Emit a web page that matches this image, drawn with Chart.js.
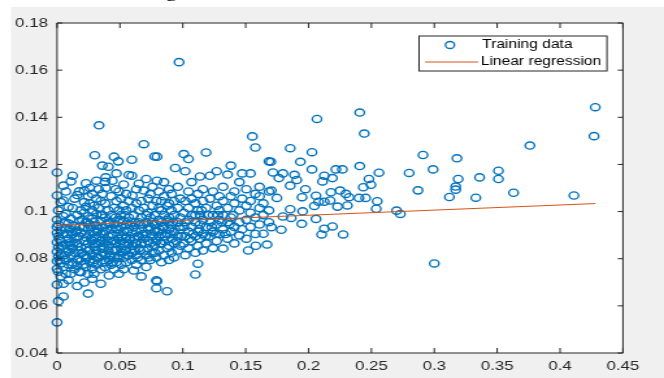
<!DOCTYPE html>
<html>
<head>
<meta charset="utf-8">
<script src="https://cdn.jsdelivr.net/npm/chart.js@4.4.1/dist/chart.umd.min.js"></script>
<style>
  html, body { margin: 0; padding: 0; background: #fff; overflow: hidden; }
  /* the reference figure is stretched sideways, so draw narrow and stretch */
  #wrap { position: absolute; left: 0; top: 0; width: 511px; height: 378px; transform: scaleX(1.29941); transform-origin: 0 0; }
  #chart { position: absolute; left: 0; top: 0; }
  #above { position: absolute; left: 68px; top: -18px; font: 18px/18px "Liberation Serif", "Times New Roman", serif; color: #000; white-space: nowrap; }
</style>
</head>
<body>
<div id="wrap">
  <canvas id="chart" width="511" height="378"></canvas>
  <div id="above">linear regression.</div>
</div>
<script>
// x = feature value, y = target value
const trainingData = [
  [0,0.053],[0,0.069],[0,0.0757],[0,0.079],[0,0.083],[0,0.087],[0,0.091],[0,0.0935],[0,0.0965],[0,0.1068],[0,0.1166],
  [0.001,0.062],[0.001,0.0745],[0.001,0.081],[0.001,0.085],[0.001,0.0895],[0.001,0.0945],[0.001,0.1005],
  [0.002,0.0795],[0.002,0.0885],[0.004,0.0855],[0.006,0.0815],[0.006,0.0955],[0.008,0.0905],[0.01,0.0855],[0.01,0.0925],
  [0.003,0.0725],[0.003,0.078],[0.003,0.082],[0.003,0.0875],[0.003,0.092],[0.003,0.104],
  [0.005,0.064],[0.005,0.0694],[0.005,0.0765],[0.005,0.084],[0.005,0.0905],[0.005,0.098],[0.005,0.1047],[0.005,0.111],
  [0.007,0.0735],[0.007,0.0795],[0.007,0.086],[0.007,0.093],[0.007,0.099],[0.007,0.1085],
  [0.009,0.071],[0.009,0.0775],[0.009,0.083],[0.009,0.0885],[0.009,0.095],[0.009,0.102],
  [0.011,0.0736],[0.011,0.081],[0.011,0.087],[0.011,0.0915],[0.011,0.097],[0.011,0.1128],
  [0.0124,0.1152],[0.0124,0.0785],[0.0124,0.0845],[0.0124,0.0905],[0.0124,0.1015],
  [0.012,0.0775],[0.013,0.0865],[0.015,0.0915],[0.017,0.0795],[0.018,0.0935],[0.02,0.0825],[0.02,0.0965],
  [0.014,0.0755],[0.014,0.0825],[0.014,0.0885],[0.014,0.094],[0.014,0.1055],
  [0.016,0.0684],[0.016,0.077],[0.016,0.08],[0.016,0.0865],[0.016,0.092],[0.016,0.0985],[0.016,0.107],
  [0.0176,0.1086],[0.0176,0.0745],[0.0176,0.0835],[0.0176,0.0895],[0.0176,0.096],
  [0.019,0.0743],[0.019,0.079],[0.019,0.085],[0.019,0.091],[0.019,0.1005],
  [0.0216,0.0699],[0.0216,0.1089],[0.0216,0.0815],[0.0216,0.0875],[0.0216,0.0935],[0.0216,0.0995],[0.0216,0.104],
  [0.021,0.0775],[0.022,0.0905],[0.024,0.0805],[0.024,0.0955],[0.025,0.0835],[0.027,0.0885],[0.027,0.0935],
  [0.023,0.0765],[0.023,0.0805],[0.023,0.0845],[0.023,0.089],[0.023,0.0955],[0.023,0.102],[0.023,0.112],
  [0.0247,0.0652],[0.0247,0.0735],[0.0247,0.0865],[0.0247,0.0925],[0.0247,0.098],[0.0247,0.1065],
  [0.026,0.0785],[0.026,0.0835],[0.026,0.0905],[0.026,0.0945],[0.026,0.1035],[0.026,0.11],
  [0.028,0.0715],[0.028,0.0755],[0.028,0.0815],[0.028,0.0875],[0.028,0.097],[0.028,0.1005],[0.028,0.1075],
  [0.029,0.0785],[0.03,0.0865],[0.032,0.0805],[0.032,0.0915],[0.034,0.0875],[0.035,0.0815],[0.035,0.0985],
  [0.0295,0.0736],[0.0295,0.0795],[0.0295,0.085],[0.0295,0.0915],[0.0295,0.0955],[0.0295,0.1025],
  [0.0313,0.1131],[0.0313,0.0775],[0.0313,0.0835],[0.0313,0.089],[0.0313,0.094],[0.0313,0.099],[0.0313,0.1055],
  [0.030,0.1239],[0.033,0.0805],[0.033,0.0865],[0.033,0.0925],[0.033,0.1015],[0.033,0.1095],[0.0334,0.1366],
  [0.0348,0.0694],[0.0348,0.0755],[0.0348,0.0845],[0.0348,0.0905],[0.0348,0.096],[0.0348,0.1045],
  [0.036,0.0785],[0.036,0.0825],[0.036,0.088],[0.036,0.0935],[0.036,0.0985],[0.036,0.1075],[0.036,0.1195],
  [0.037,0.0845],[0.037,0.0905],[0.039,0.0785],[0.039,0.0945],[0.04,0.0875],[0.042,0.0815],[0.042,0.0955],
  [0.0382,0.1126],[0.0382,0.0765],[0.0382,0.0815],[0.0382,0.0865],[0.0382,0.0915],[0.0382,0.0975],[0.0382,0.1035],
  [0.0387,0.1145],[0.0387,0.11],
  [0.0408,0.119],[0.0408,0.0835],[0.0408,0.0895],[0.0408,0.095],[0.0408,0.1005],
  [0.0413,0.0729],[0.0413,0.0795],[0.0413,0.0855],
  [0.043,0.0775],[0.043,0.0815],[0.043,0.0875],[0.043,0.0925],[0.043,0.0985],[0.043,0.1065],
  [0.044,0.1131],[0.044,0.0835],[0.044,0.0905],[0.044,0.0785],[0.045,0.0875],[0.046,0.0835],
  [0.0453,0.1233],[0.0453,0.0755],[0.0453,0.0805],[0.0453,0.0945],[0.0453,0.1015],
  [0.0466,0.1095],[0.0466,0.0865],[0.0466,0.0925],[0.0466,0.0975],
  [0.0472,0.1162],[0.0472,0.0785],[0.0472,0.0835],[0.0472,0.1045],
  [0.0487,0.1213],[0.0487,0.0885],[0.0487,0.0955],[0.048,0.0805],[0.048,0.0925],
  [0.0492,0.0736],[0.0492,0.0815],[0.0492,0.0905],[0.0492,0.1005],[0.0492,0.1085],
  [0.05,0.0865],[0.05,0.0965],[0.052,0.0825],[0.052,0.0895],[0.054,0.0855],[0.054,0.0985],
  [0.051,0.0775],[0.051,0.0845],[0.051,0.0875],[0.051,0.0935],[0.051,0.0985],[0.051,0.1055],
  [0.053,0.0755],[0.053,0.0805],[0.053,0.0865],[0.053,0.0915],[0.053,0.096],[0.053,0.1025],[0.053,0.1115],
  [0.055,0.0785],[0.055,0.0835],[0.055,0.089],[0.055,0.0945],[0.055,0.1005],[0.055,0.1075],
  [0.056,0.0815],[0.056,0.0915],[0.058,0.0885],[0.058,0.0945],[0.06,0.0825],
  [0.057,0.0815],[0.057,0.0865],[0.057,0.0925],[0.057,0.0975],[0.057,0.1045],[0.057,0.1155],
  [0.0595,0.122],[0.0595,0.1152],[0.0595,0.0795],[0.0595,0.0855],[0.0595,0.0905],[0.0595,0.0955],[0.0595,0.1015],
  [0.0598,0.1068],
  [0.061,0.075],[0.061,0.0835],[0.061,0.0885],[0.061,0.0935],[0.061,0.0985],
  [0.062,0.0865],[0.062,0.0955],[0.064,0.0805],[0.064,0.0895],[0.066,0.0835],[0.066,0.0945],
  [0.063,0.0775],[0.063,0.0815],[0.063,0.0865],[0.063,0.0915],[0.063,0.1035],[0.063,0.1095],
  [0.065,0.1118],[0.065,0.0845],[0.065,0.0895],[0.065,0.0955],[0.065,0.1005],
  [0.067,0.0725],[0.067,0.0795],[0.067,0.0865],[0.067,0.0925],[0.067,0.0975],[0.067,0.1045],
  [0.068,0.0905],[0.07,0.0865],[0.071,0.0985],[0.073,0.0805],[0.075,0.0905],[0.077,0.0945],
  [0.069,0.1286],[0.069,0.1089],[0.069,0.0835],[0.069,0.0885],[0.069,0.0945],[0.069,0.1015],
  [0.0709,0.1138],[0.0709,0.0765],[0.0709,0.0815],[0.0709,0.0905],[0.0709,0.0955],
  [0.0725,0.0845],[0.0725,0.0875],[0.0725,0.0925],[0.0725,0.0995],[0.0725,0.1055],
  [0.0742,0.1074],[0.0742,0.0795],[0.0742,0.0865],[0.0742,0.0935],[0.0742,0.0975],
  [0.076,0.0825],[0.076,0.0895],[0.076,0.0955],[0.076,0.1025],[0.076,0.1105],
  [0.0776,0.1234],[0.0776,0.0855],[0.0776,0.0915],[0.0776,0.0985],
  [0.078,0.0825],[0.08,0.0915],[0.082,0.0865],[0.084,0.0935],[0.086,0.0895],[0.088,0.0955],
  [0.079,0.0709],[0.079,0.0675],[0.079,0.0805],[0.079,0.0875],[0.079,0.0945],[0.079,0.1045],
  [0.0795,0.1131],[0.0795,0.1233],[0.0795,0.0704],
  [0.081,0.0835],[0.081,0.0895],[0.081,0.0925],[0.081,0.0965],[0.081,0.1015],[0.081,0.1085],
  [0.083,0.0785],[0.083,0.0865],[0.083,0.0905],[0.083,0.0955],[0.083,0.1005],[0.083,0.1045],
  [0.085,0.0815],[0.085,0.0875],[0.085,0.0935],[0.085,0.0985],[0.085,0.1065],[0.085,0.1125],
  [0.0875,0.0662],[0.0875,0.0845],[0.0875,0.0905],[0.0875,0.0965],[0.0875,0.1025],
  [0.089,0.0795],[0.089,0.0855],[0.089,0.0925],[0.089,0.0975],[0.089,0.1035],[0.089,0.1095],
  [0.09,0.0905],[0.092,0.0955],[0.095,0.0875],[0.097,0.0935],[0.099,0.0895],
  [0.091,0.0825],[0.091,0.0885],[0.091,0.0945],[0.091,0.1005],[0.091,0.1075],
  [0.093,0.0805],[0.093,0.0865],[0.093,0.0915],[0.093,0.0985],[0.093,0.1045],
  [0.094,0.1185],
  [0.096,0.0835],[0.096,0.0895],[0.096,0.0955],[0.096,0.1015],[0.096,0.1105],
  [0.097,0.1634],
  [0.098,0.0855],[0.098,0.0925],[0.098,0.0975],[0.098,0.1055],
  [0.1008,0.1244],[0.1008,0.0865],[0.1008,0.0935],[0.1008,0.0995],
  [0.1019,0.1171],[0.1019,0.0815],[0.1019,0.0895],[0.1019,0.1045],
  [0.102,0.0955],[0.105,0.0885],[0.108,0.0905],[0.11,0.0985],[0.113,0.0925],[0.115,0.1005],
  [0.1045,0.1223],[0.1045,0.0845],[0.1045,0.0915],[0.1045,0.0965],[0.1045,0.1015],[0.1045,0.1085],
  [0.107,0.0875],[0.107,0.0935],[0.107,0.0985],[0.107,0.1055],[0.107,0.1125],
  [0.11,0.0733],[0.11,0.0825],[0.11,0.0895],[0.11,0.0955],[0.11,0.1035],
  [0.112,0.0779],[0.112,0.0855],[0.112,0.0915],[0.112,0.1005],[0.112,0.1075],
  [0.1137,0.1149],[0.1137,0.0885],[0.1137,0.0945],[0.1137,0.0985],
  [0.116,0.0835],[0.116,0.0905],[0.116,0.0965],[0.116,0.1045],[0.116,0.1095],
  [0.118,0.0895],[0.12,0.0985],[0.123,0.0935],[0.126,0.0905],[0.128,0.0985],
  [0.1185,0.1251],[0.1185,0.0865],[0.1185,0.0935],[0.1185,0.1015],
  [0.1216,0.1152],[0.1216,0.0895],[0.1216,0.0955],[0.1216,0.1055],
  [0.124,0.0845],[0.124,0.0915],[0.124,0.0985],[0.124,0.1085],
  [0.1269,0.1171],[0.1269,0.0875],[0.1269,0.0945],[0.1269,0.1025],
  [0.129,0.0905],[0.129,0.0965],[0.129,0.1005],[0.129,0.1065],
  [0.131,0.0955],[0.134,0.0905],[0.137,0.0945],[0.14,0.0985],
  [0.132,0.0843],[0.132,0.0925],[0.132,0.0985],[0.132,0.1045],[0.132,0.1105],
  [0.1356,0.1157],[0.1356,0.0885],[0.1356,0.0955],[0.1356,0.1015],
  [0.1382,0.1195],[0.1382,0.0915],[0.1382,0.0975],[0.1382,0.1065],
  [0.141,0.0865],[0.141,0.0935],[0.141,0.1035],[0.141,0.1085],
  [0.145,0.0899],[0.145,0.0955],[0.145,0.1005],[0.145,0.1125],
  [0.1472,0.1162],[0.1472,0.0925],[0.1472,0.1055],
  [0.1505,0.0885],[0.1505,0.0965],[0.1505,0.1025],[0.1505,0.1095],
  [0.152,0.0835],[0.1538,0.1162],[0.1538,0.0935],[0.1538,0.0995],[0.1538,0.1045],
  [0.1553,0.1319],[0.1577,0.1272],[0.1577,0.0905],[0.1577,0.0975],[0.1577,0.1075],[0.158,0.0855],
  [0.161,0.0945],[0.161,0.1015],[0.161,0.1065],[0.161,0.1105],
  [0.164,0.0906],[0.164,0.0985],[0.164,0.1035],[0.167,0.086],
  [0.1685,0.1213],[0.1685,0.0955],[0.1685,0.1005],[0.1685,0.1085],
  [0.1704,0.1089],[0.1704,0.0934],[0.170,0.1211],[0.1717,0.1166],[0.1748,0.1058],[0.1764,0.1142],
  [0.1783,0.0923],[0.1796,0.1162],[0.1796,0.0979],[0.1854,0.1269],[0.1854,0.111],[0.1854,0.101],
  [0.1862,0.0973],[0.1888,0.1156],[0.1906,0.1134],[0.1935,0.1211],[0.1946,0.0948],[0.1948,0.1061],
  [0.1953,0.1001],[0.1975,0.1095],[0.2027,0.1252],[0.2027,0.1179],[0.2046,0.1024],[0.2059,0.1067],
  [0.2059,0.0969],[0.2067,0.1393],[0.208,0.1042],[0.2104,0.0903],[0.2111,0.1128],[0.2125,0.1152],
  [0.2125,0.1042],[0.2125,0.0927],[0.2172,0.1047],[0.2178,0.1082],[0.219,0.1142],[0.219,0.0937],
  [0.2217,0.1179],[0.223,0.1021],[0.2251,0.1089],[0.2269,0.1179],[0.2275,0.0903],[0.2296,0.1075],
  [0.2309,0.1026],[0.2322,0.1061],[0.2401,0.1058],[0.2407,0.142],[0.2407,0.1193],[0.2435,0.1103],
  [0.2443,0.1331],[0.2454,0.1058],[0.248,0.1138],[0.2496,0.1114],[0.2538,0.1012],[0.2546,0.1044],
  [0.256,0.1165],[0.270,0.1004],[0.273,0.099],[0.280,0.1164],[0.287,0.109],[0.291,0.1240],
  [0.299,0.1179],[0.300,0.078],[0.312,0.1062],[0.317,0.1106],[0.317,0.1093],[0.318,0.1226],
  [0.319,0.1138],[0.333,0.1059],[0.336,0.1145],[0.351,0.1173],[0.351,0.1138],[0.363,0.108],
  [0.376,0.128],[0.411,0.1068],[0.427,0.132],[0.428,0.1443]
];

// fitted line end points
const fitX = [0, 0.428];
const fitY = [0.0941, 0.1034];

const xTicks = [0, 0.05, 0.1, 0.15, 0.2, 0.25, 0.3, 0.35, 0.4, 0.45];
const yTicks = [0.04, 0.06, 0.08, 0.1, 0.12, 0.14, 0.16, 0.18];
const legendLabels = ['Training data', 'Linear regression'];

const blue = '#0072BD';
const orange = '#D95319';
const axisColor = '#262626';
const fontFamily = '"Liberation Sans", Arial, sans-serif';

function fmt(v) {
    return String(+v.toFixed(2));
}

// figure background, white axes area, box with inward ticks
const matlabAxes = {
    id: 'matlabAxes',
    beforeDraw(chart) {
        const ctx = chart.ctx;
        const a = chart.chartArea;
        ctx.save();
        ctx.fillStyle = '#ffffff';
        ctx.fillRect(0, 0, chart.width, chart.height);
        ctx.fillStyle = '#f0f0f0';
        ctx.fillRect(8.5, 7, chart.width - 8.5, chart.height - 7);
        ctx.fillStyle = '#ffffff';
        ctx.fillRect(a.left, a.top, a.right - a.left, a.bottom - a.top);
        ctx.restore();
    },
    afterDatasetsDraw(chart) {
        const ctx = chart.ctx;
        const a = chart.chartArea;
        const xs = chart.scales.x;
        const ys = chart.scales.y;
        ctx.save();
        ctx.strokeStyle = axisColor;
        ctx.lineWidth = 1;
        ctx.beginPath();
        ctx.rect(a.left, a.top, a.right - a.left, a.bottom - a.top);
        xTicks.forEach(v => {
            const px = xs.getPixelForValue(v);
            ctx.moveTo(px, a.bottom); ctx.lineTo(px, a.bottom - 5);
            ctx.moveTo(px, a.top); ctx.lineTo(px, a.top + 5);
        });
        yTicks.forEach(v => {
            const py = ys.getPixelForValue(v);
            ctx.moveTo(a.left, py); ctx.lineTo(a.left + 4, py);
            ctx.moveTo(a.right, py); ctx.lineTo(a.right - 4, py);
        });
        ctx.stroke();
        ctx.restore();
    }
};

// boxed legend in the upper right, like MATLAB's 'northeast'
const boxLegend = {
    id: 'boxLegend',
    afterDraw(chart) {
        const ctx = chart.ctx;
        const left = 322.5, top = 36, right = 467.1, bottom = 71;
        ctx.save();
        ctx.fillStyle = '#ffffff';
        ctx.fillRect(left, top, right - left, bottom - top);
        ctx.strokeStyle = axisColor;
        ctx.lineWidth = 1;
        ctx.strokeRect(left, top, right - left, bottom - top);

        ctx.strokeStyle = blue;
        ctx.lineWidth = 1.3;
        ctx.beginPath();
        ctx.arc(346.3, 45, 3.5, 0, Math.PI * 2);
        ctx.stroke();

        ctx.strokeStyle = orange;
        ctx.lineWidth = 1;
        ctx.beginPath();
        ctx.moveTo(327.1, 62);
        ctx.lineTo(367.9, 62);
        ctx.stroke();

        ctx.fillStyle = '#000000';
        ctx.font = '12px ' + fontFamily;
        ctx.textBaseline = 'middle';
        ctx.fillText(legendLabels[0], 371, 45);
        ctx.fillText(legendLabels[1], 370, 62);
        ctx.restore();
    }
};

new Chart(document.getElementById('chart'), {
    data: {
        datasets: [
            {
                type: 'line',
                label: legendLabels[1],
                data: fitX.map((x, i) => ({ x: x, y: fitY[i] })),
                borderColor: orange,
                borderWidth: 1,
                pointRadius: 0,
                fill: false,
                order: 0
            },
            {
                type: 'scatter',
                label: legendLabels[0],
                data: trainingData.map(p => ({ x: p[0], y: p[1] })),
                pointStyle: 'circle',
                pointRadius: 3.6,
                borderWidth: 1.35,
                borderColor: blue,
                backgroundColor: 'rgba(0,0,0,0)',
                clip: false,
                order: 1
            }
        ]
    },
    options: {
        responsive: false,
        animation: false,
        layout: { padding: { left: 0, right: 31.6, top: 23, bottom: 0 } },
        plugins: {
            legend: { display: false },
            tooltip: { enabled: false }
        },
        scales: {
            x: {
                type: 'linear',
                min: 0,
                max: 0.45,
                afterBuildTicks: s => { s.ticks = xTicks.map(v => ({ value: v })); },
                afterFit: s => { s.height = 25; },
                grid: { display: false, drawTicks: false },
                border: { display: false },
                ticks: {
                    color: axisColor,
                    font: { size: 13, family: fontFamily },
                    padding: 6,
                    maxRotation: 0,
                    autoSkip: false,
                    callback: v => fmt(v)
                }
            },
            y: {
                type: 'linear',
                min: 0.04,
                max: 0.18,
                afterBuildTicks: s => { s.ticks = yTicks.map(v => ({ value: v })); },
                afterFit: s => { s.width = 43.9; },
                grid: { display: false, drawTicks: false },
                border: { display: false },
                ticks: {
                    color: axisColor,
                    font: { size: 13, family: fontFamily },
                    padding: 7,
                    autoSkip: false,
                    callback: v => fmt(v)
                }
            }
        }
    },
    plugins: [matlabAxes, boxLegend]
});
</script>
</body>
</html>
